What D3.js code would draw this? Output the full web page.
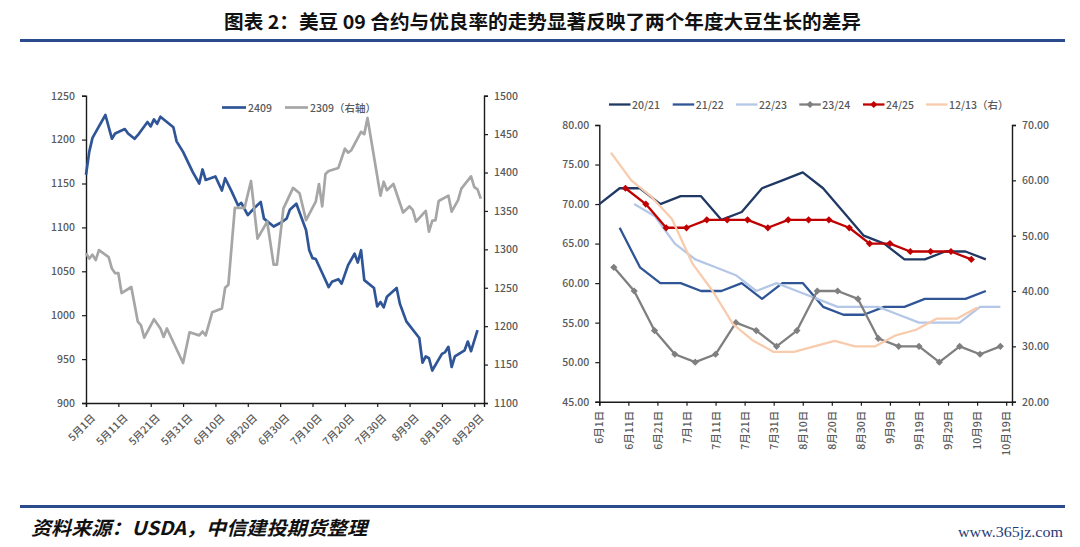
<!DOCTYPE html>
<html><head><meta charset="utf-8">
<script src="https://cdn.jsdelivr.net/npm/d3@7/dist/d3.min.js"></script>
<style>
body{margin:0;background:#fff;}
svg{display:block;}
text{font-family:"Noto Sans CJK SC","Noto Sans",sans-serif;}
</style>
</head><body>
<svg id="c" width="1080" height="547"></svg>
<script>
// ---------------- DATA ----------------
const titleText = "图表 2：美豆 09 合约与优良率的走势显著反映了两个年度大豆生长的差异";
const sourceText = "资料来源：USDA，中信建投期货整理";
const siteText = "www.365jz.com";

// Left chart: soybean futures
const leftTickLabels = ["5/1","5/11","5/21","5/31","6/10","6/20","6/30","7/10","7/20","7/30","8/9","8/19","8/29"];
const leftYTicks = [900,950,1000,1050,1100,1150,1200,1250];
const leftY2Ticks = [1100,1150,1200,1250,1300,1350,1400,1450,1500];
const dates2409 = ["5/1","5/2","5/3","5/5","5/7","5/9","5/10","5/13","5/14","5/16","5/17","5/20","5/21","5/22","5/23","5/24","5/26","5/28","5/29","5/31","6/3","6/5","6/6","6/7","6/10","6/12","6/13","6/15","6/17","6/18","6/20","6/22","6/24","6/25","6/28","6/30","7/2","7/3","7/5","7/8","7/9","7/10","7/11","7/13","7/15","7/16","7/18","7/19","7/21","7/23","7/24","7/25","7/26","7/29","7/30","7/31","8/1","8/2","8/5","8/6","8/8","8/12","8/13","8/14","8/15","8/16","8/19","8/20","8/21","8/22","8/23","8/26","8/27","8/28","8/30"];
const vals2409 = [1160,1186,1202,1215,1228,1201,1207,1212,1207,1201,1205,1220,1215,1223,1218,1226,1220,1214,1198,1186,1163,1150,1166,1154,1158,1142,1156,1141,1125,1128,1114,1122,1129,1110,1101,1105,1110,1120,1127,1097,1074,1065,1064,1048,1032,1038,1041,1036,1057,1070,1060,1074,1040,1031,1010,1015,1009,1021,1031,1013,993,974,946,953,951,937,956,958,964,941,953,960,970,959,983];
const dates2309 = ["5/1","5/2","5/3","5/4","5/5","5/8","5/9","5/10","5/11","5/12","5/15","5/17","5/18","5/19","5/22","5/24","5/25","5/26","5/31","6/2","6/5","6/6","6/7","6/9","6/12","6/13","6/14","6/16","6/19","6/21","6/23","6/26","6/28","6/29","7/1","7/4","7/6","7/8","7/11","7/12","7/13","7/14","7/15","7/18","7/20","7/21","7/22","7/25","7/26","7/27","7/31","8/1","8/2","8/4","8/7","8/9","8/10","8/11","8/14","8/15","8/16","8/17","8/18","8/21","8/22","8/24","8/25","8/28","8/29","8/30","8/31"];
const vals2309 = [1295,1288,1293,1286,1299,1290,1275,1269,1269,1243,1251,1206,1201,1185,1209,1197,1186,1197,1152,1192,1188,1193,1188,1218,1223,1250,1254,1354,1354,1389,1314,1336,1280,1280,1353,1380,1373,1338,1362,1385,1356,1398,1402,1406,1431,1426,1429,1453,1450,1471,1370,1388,1377,1385,1348,1356,1351,1336,1350,1323,1337,1338,1363,1370,1349,1364,1379,1395,1381,1378,1366];

// Right chart: good/excellent ratings
const rightTickLabels = ["6/1","6/11","6/21","7/1","7/11","7/21","7/31","8/10","8/20","8/30","9/9","9/19","9/29","10/9","10/19"];
const rightYTicks = [45,50,55,60,65,70,75,80];
const rightY2Ticks = [20,30,40,50,60,70];
const seasonNames = ["20/21","21/22","22/23","23/24","24/25","12/13（右）"];
const dates2021 = ["6/1","6/8","6/15","6/22","6/29","7/6","7/13","7/20","7/27","8/3","8/10","8/17","8/24","8/31","9/7","9/14","9/21","9/28","10/5","10/12"];
const vals2021 = [70,72,72,70,71,71,68,69,72,73,74,72,69,66,65,63,63,64,64,63];
const dates2122 = ["6/8","6/15","6/22","6/29","7/6","7/13","7/20","7/27","8/3","8/10","8/17","8/24","8/31","9/7","9/14","9/21","9/28","10/5","10/12"];
const vals2122 = [67,62,60,60,59,59,60,58,60,60,57,56,56,57,57,58,58,58,59];
const dates2223 = ["6/13","6/20","6/27","7/4","7/11","7/18","7/25","8/1","8/8","8/15","8/22","8/29","9/5","9/12","9/19","9/26","10/3","10/10","10/17"];
const vals2223 = [70,68.5,65,63,62,61,59,60,59,58,57,57,57,56,55,55,55,57,57];
const dates2324 = ["6/6","6/13","6/20","6/27","7/4","7/11","7/18","7/25","8/1","8/8","8/15","8/22","8/29","9/5","9/12","9/19","9/26","10/3","10/10","10/17"];
const vals2324 = [62,59,54,51,50,51,55,54,52,54,59,59,58,53,52,52,50,52,51,52];
const dates2425 = ["6/10","6/17","6/24","7/1","7/8","7/15","7/22","7/29","8/5","8/12","8/19","8/26","9/2","9/9","9/16","9/23","9/30","10/7"];
const vals2425 = [72,70,67,67,68,68,68,67,68,68,68,67,65,65,64,64,64,63];
const dates1213 = ["6/5","6/12","6/19","6/26","7/3","7/10","7/17","7/24","7/31","8/7","8/14","8/21","8/28","9/4","9/11","9/18","9/25","10/2","10/9"];
const vals1213 = [65,60,57,53,45,40,34,31,29,29,30,31,30,30,32,33,35,35,37];

// ---------------- DRAW ----------------
const svg = d3.select("#c");
const parseL = s => d3.timeParse("%Y/%m/%d")("2024/" + s);
const parseR = s => d3.timeParse("%Y/%m/%d")("2021/" + s);
const cnLabel = s => { const [m, d] = s.split("/"); return m + "月" + d + "日"; };
const lblColor = "#595959";
const fs = "10.5px";

// header / footer
svg.append("text").attr("x", 224).attr("y", 29).attr("textLength", 637)
  .attr("lengthAdjust", "spacingAndGlyphs")
  .style("font-size", "19px").style("font-weight", "bold").attr("fill", "#111").text(titleText);
svg.append("line").attr("x1", 20).attr("x2", 1065).attr("y1", 40.5).attr("y2", 40.5)
  .attr("stroke", "#2B4C8C").attr("stroke-width", 3);
svg.append("line").attr("x1", 20).attr("x2", 1065).attr("y1", 506.5).attr("y2", 506.5)
  .attr("stroke", "#2B4C8C").attr("stroke-width", 3);
svg.append("text").attr("x", 31).attr("y", 535).attr("textLength", 336)
  .attr("lengthAdjust", "spacingAndGlyphs")
  .style("font-size", "19px").style("font-weight", "bold").style("font-style", "italic")
  .attr("fill", "#111").text(sourceText);
svg.append("text").attr("x", 958).attr("y", 537).attr("textLength", 105)
  .attr("lengthAdjust", "spacingAndGlyphs")
  .style("font-family", "'Liberation Serif',serif").style("font-size", "15px")
  .attr("fill", "#1F3C78").text(siteText);

function styleAxis(g) {
  g.selectAll(".domain").attr("stroke", "#1a1a1a").attr("stroke-width", 1.4);
  g.selectAll(".tick line").attr("stroke", "#1a1a1a").attr("stroke-width", 1.2);
  g.selectAll("text").attr("fill", lblColor).style("font-size", fs).style("font-weight", 500)
    .style("font-family", "'Noto Sans CJK SC','Noto Sans',sans-serif");
}

// ---------- Left chart ----------
{
  const x = d3.scaleTime().domain([parseL("5/1"), parseL("9/1")]).range([86, 484]);
  const y = d3.scaleLinear().domain([900, 1250]).range([403, 95.7]);
  const y2 = d3.scaleLinear().domain([1100, 1500]).range([403, 95.7]);

  const gx = svg.append("g").attr("transform", "translate(0,403)")
    .call(d3.axisBottom(x).tickValues(leftTickLabels.map(parseL)).tickSizeOuter(0).tickSize(4)
      .tickFormat((d, i) => cnLabel(leftTickLabels[i])));
  styleAxis(gx);
  gx.selectAll("text").attr("text-anchor", "end").attr("dy", "0.35em")
    .attr("transform", "translate(2,8) rotate(-45)");

  const gy = svg.append("g").attr("transform", "translate(86,0)")
    .call(d3.axisLeft(y).tickValues(leftYTicks).tickSizeOuter(0).tickSize(4).tickPadding(7).tickFormat(d3.format("d")));
  styleAxis(gy);
  const gy2 = svg.append("g").attr("transform", "translate(484,0)")
    .call(d3.axisRight(y2).tickValues(leftY2Ticks).tickSizeOuter(0).tickSize(4).tickPadding(6).tickFormat(d3.format("d")));
  styleAxis(gy2);

  const a = dates2409.map((d, i) => ({ d: parseL(d), v: vals2409[i] }));
  const b = dates2309.map((d, i) => ({ d: parseL(d), v: vals2309[i] }));
  svg.append("path").datum(a).attr("fill", "none").attr("stroke", "#2F5597").attr("stroke-width", 2.7)
    .attr("stroke-linejoin", "round")
    .attr("d", d3.line().x(p => x(p.d)).y(p => y(p.v)));
  svg.append("path").datum(b).attr("fill", "none").attr("stroke", "#A6A6A6").attr("stroke-width", 2.7)
    .attr("stroke-linejoin", "round")
    .attr("d", d3.line().x(p => x(p.d)).y(p => y2(p.v)));

  // legend
  const lg = [{ n: "2409", c: "#2F5597", x1: 222, x2: 246 }, { n: "2309（右轴）", c: "#A6A6A6", x1: 285, x2: 308 }];
  lg.forEach(l => {
    svg.append("line").attr("x1", l.x1).attr("x2", l.x2).attr("y1", 107.5).attr("y2", 107.5)
      .attr("stroke", l.c).attr("stroke-width", 2.7);
    svg.append("text").attr("x", l.x2 + 2).attr("y", 111.5).attr("fill", lblColor)
      .style("font-size", fs).style("font-weight", 500).text(l.n);
  });
}

// ---------- Right chart ----------
{
  const x = d3.scaleTime().domain([parseR("6/1"), parseR("10/21")]).range([599.3, 1012]);
  const y = d3.scaleLinear().domain([45, 80]).range([401.7, 125]);
  const y2 = d3.scaleLinear().domain([20, 70]).range([401.7, 125]);

  const gx = svg.append("g").attr("transform", "translate(0,401.7)")
    .call(d3.axisBottom(x).tickValues(rightTickLabels.map(parseR)).tickSizeOuter(0).tickSize(4)
      .tickFormat((d, i) => cnLabel(rightTickLabels[i])));
  styleAxis(gx);
  gx.selectAll("text").attr("text-anchor", "end").attr("dy", "0.35em")
    .attr("transform", "translate(0,3) rotate(-90)").attr("x", -6).attr("y", 0);

  const gy = svg.append("g").attr("transform", "translate(599.3,0)")
    .call(d3.axisLeft(y).tickValues(rightYTicks).tickSizeOuter(0).tickSize(4).tickPadding(6).tickFormat(d3.format(".2f")));
  styleAxis(gy);
  const gy2 = svg.append("g").attr("transform", "translate(1012,0)")
    .call(d3.axisRight(y2).tickValues(rightY2Ticks).tickSizeOuter(0).tickSize(4).tickPadding(6).tickFormat(d3.format(".2f")));
  styleAxis(gy2);

  const series = [
    { n: seasonNames[0], dates: dates2021, vals: vals2021, c: "#203864", w: 2.3, m: false, ax: y },
    { n: seasonNames[1], dates: dates2122, vals: vals2122, c: "#2F5597", w: 2.3, m: false, ax: y },
    { n: seasonNames[2], dates: dates2223, vals: vals2223, c: "#B4C7E7", w: 2.3, m: false, ax: y },
    { n: seasonNames[3], dates: dates2324, vals: vals2324, c: "#7F7F7F", w: 2.3, m: true, ax: y },
    { n: seasonNames[4], dates: dates2425, vals: vals2425, c: "#C00000", w: 2.3, m: true, ax: y },
    { n: seasonNames[5], dates: dates1213, vals: vals1213, c: "#F8CBAD", w: 2.3, m: false, ax: y2 }
  ];
  const diamond = d3.symbol().type(d3.symbolSquare).size(26);
  series.forEach(s => {
    const pts = s.dates.map((d, i) => ({ d: parseR(d), v: s.vals[i] }));
    svg.append("path").datum(pts).attr("fill", "none").attr("stroke", s.c).attr("stroke-width", s.w)
      .attr("stroke-linejoin", "round")
      .attr("d", d3.line().x(p => x(p.d)).y(p => s.ax(p.v)));
    if (s.m) {
      svg.append("g").selectAll("path").data(pts).join("path")
        .attr("d", diamond).attr("fill", s.c)
        .attr("transform", p => `translate(${x(p.d)},${s.ax(p.v)}) rotate(45)`);
    }
  });

  // legend
  const lx = [609, 672.7, 736, 799.3, 863, 926];
  series.forEach((s, i) => {
    const x1 = lx[i], x2 = lx[i] + 21.5, yy = 104.5;
    svg.append("line").attr("x1", x1).attr("x2", x2).attr("y1", yy).attr("y2", yy)
      .attr("stroke", s.c).attr("stroke-width", 2.3);
    if (s.m) svg.append("path").attr("d", diamond).attr("fill", s.c)
      .attr("transform", `translate(${(x1 + x2) / 2},${yy}) rotate(45)`);
    svg.append("text").attr("x", x2 + 1.5).attr("y", yy + 4).attr("fill", lblColor)
      .style("font-size", fs).style("font-weight", 500).text(s.n);
  });
}
</script>
</body></html>
